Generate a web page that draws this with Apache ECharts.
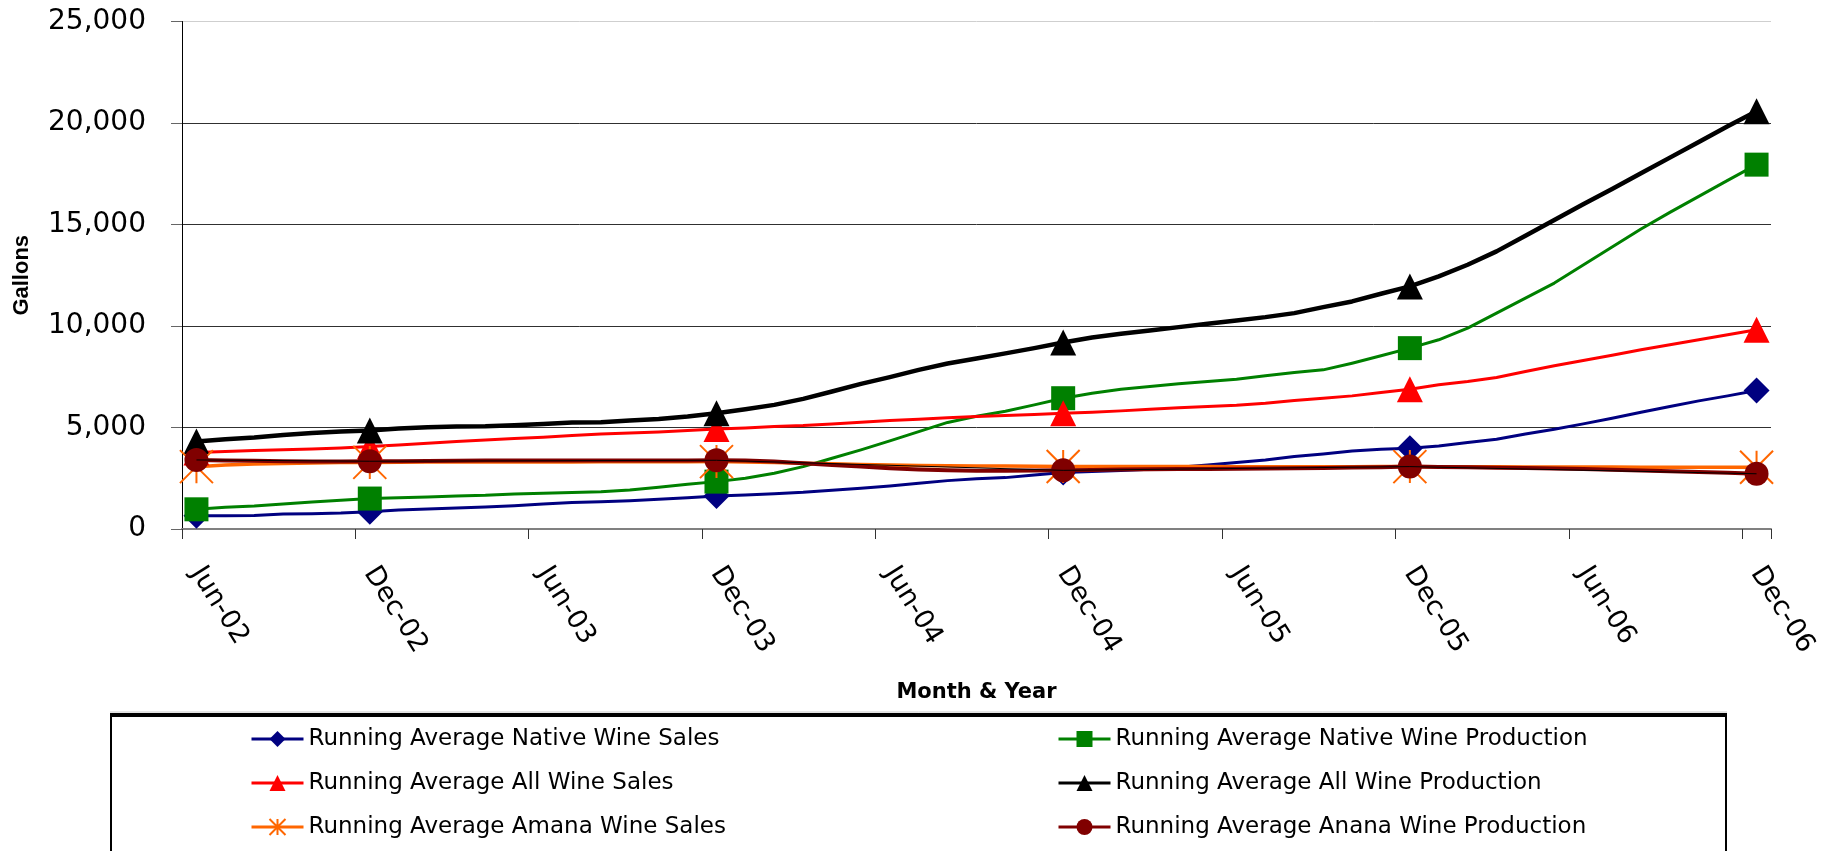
<!DOCTYPE html>
<html>
<head>
<meta charset="utf-8">
<script src="https://cdn.jsdelivr.net/npm/echarts@6/dist/echarts.min.js"></script>
<style>
html,body{margin:0;padding:0;background:#fff;}
#chart{width:1840px;height:851px;}
</style>
</head>
<body>
<div id="chart"></div>
<script>
const categories = [
 'Jun-02','Jul-02','Aug-02','Sep-02','Oct-02','Nov-02','Dec-02',
 'Jan-03','Feb-03','Mar-03','Apr-03','May-03','Jun-03','Jul-03','Aug-03','Sep-03','Oct-03','Nov-03','Dec-03',
 'Jan-04','Feb-04','Mar-04','Apr-04','May-04','Jun-04','Jul-04','Aug-04','Sep-04','Oct-04','Nov-04','Dec-04',
 'Jan-05','Feb-05','Mar-05','Apr-05','May-05','Jun-05','Jul-05','Aug-05','Sep-05','Oct-05','Nov-05','Dec-05',
 'Jan-06','Feb-06','Mar-06','Apr-06','May-06','Jun-06','Jul-06','Aug-06','Sep-06','Oct-06','Nov-06','Dec-06'
];
const nativeWineSales = [657,657,660,740,756,789,855,937,986,1035,1085,1150,1233,1300,1348,1397,1463,1545,1627,1677,1742,1808,1907,2005,2120,2252,2383,2470,2531,2663,2778,2827,2876,2942,3041,3156,3271,3402,3567,3698,3846,3930,3978,4093,4257,4422,4684,4915,5178,5457,5753,6032,6312,6558,6821];
const nativeWineProduction = [970,1068,1134,1233,1331,1414,1500,1545,1578,1627,1660,1726,1760,1800,1840,1923,2055,2203,2334,2498,2745,3074,3485,3895,4339,4800,5250,5550,5800,6114,6443,6690,6887,7018,7150,7265,7380,7544,7709,7840,8169,8531,8909,9320,9895,10635,11374,12114,13001,13889,14777,15598,16387,17176,17949];
const allWineSales = [3764,3813,3862,3900,3945,3994,4060,4142,4224,4306,4389,4454,4520,4600,4684,4734,4783,4849,4931,4981,5046,5095,5178,5260,5342,5408,5480,5540,5590,5640,5704,5753,5819,5901,5967,6032,6098,6197,6328,6443,6558,6723,6887,7101,7265,7462,7758,8038,8300,8563,8826,9073,9320,9566,9813];
const allWineProduction = [4306,4421,4504,4635,4734,4800,4849,4947,5013,5046,5062,5112,5178,5243,5260,5342,5424,5539,5704,5901,6114,6410,6772,7150,7479,7840,8150,8400,8650,8909,9188,9435,9615,9780,9944,10109,10273,10437,10635,10930,11210,11588,11949,12443,13018,13675,14448,15220,15993,16749,17521,18294,19066,19839,20579];
const amanaWineSales = [3072,3150,3200,3230,3250,3270,3280,3290,3295,3300,3300,3300,3300,3300,3310,3310,3310,3310,3320,3300,3280,3240,3210,3180,3156,3130,3115,3107,3100,3090,3080,3078,3076,3075,3074,3073,3072,3072,3072,3072,3072,3073,3074,3070,3066,3062,3058,3055,3052,3050,3048,3046,3044,3042,3041];
const ananaWineProduction = [3402,3380,3360,3340,3330,3330,3338,3340,3350,3360,3370,3380,3380,3380,3380,3380,3380,3380,3386,3370,3320,3238,3156,3074,2991,2930,2890,2870,2870,2880,2890,2910,2925,2940,2950,2960,2970,2980,2991,3010,3030,3045,3074,3060,3040,3020,3000,2980,2960,2920,2880,2850,2810,2770,2720];
// thin black line joining the year-end points (no legend entry)
const thinLinePoints = {0:3402, 6:3338, 18:3386, 30:2890, 42:3074, 54:2720};
const markerIndex = [0, 6, 18, 30, 42, 54];
const yTicks = {min: 0, max: 25000, interval: 5000};
const seriesNames = [
 'Running Average Native Wine Sales',
 'Running Average Native Wine Production',
 'Running Average All Wine Sales',
 'Running Average All Wine Production',
 'Running Average Amana Wine Sales',
 'Running Average Anana Wine Production'
];

const starPath = 'path://M0,0 L32,32 M32,0 L0,32 M16,0 L16,32';
function mk(name, data, color, width, symbol, size, extraItem) {
  return {
    name: name, type: 'line', data: data,
    symbol: symbol,
    symbolSize: function (v, p) { return markerIndex.indexOf(p.dataIndex) >= 0 ? size : 0; },
    showAllSymbol: true,
    lineStyle: {color: color, width: width, join: 'round'},
    itemStyle: Object.assign({color: color}, extraItem || {}),
    emphasis: {disabled: true},
    z: 2
  };
}
const thinData = categories.map(function (c, i) { return thinLinePoints.hasOwnProperty(i) ? thinLinePoints[i] : null; });

const font = 'DejaVu Sans';
const legendPos = [[250, 739], [1057, 739], [250, 783], [1057, 783], [250, 827], [1057, 827]];
const legends = seriesNames.map(function (n, i) {
  return {data: [n], orient: 'horizontal', left: legendPos[i][0], top: legendPos[i][1] - 12,
    itemWidth: 52, itemHeight: 20, itemGap: 0, selectedMode: false, padding: 0,
    lineStyle: {width: 3},
    textStyle: {fontFamily: font, fontSize: 23, lineHeight: 24, color: '#000'}};
});

const chart = echarts.init(document.getElementById('chart'), null, {renderer: 'canvas'});
chart.setOption({
  animation: false,
  backgroundColor: '#ffffff',
  grid: {left: 182, right: 69, top: 21.5, bottom: 322, containLabel: false, outerBoundsMode: 'none'},
  xAxis: {
    type: 'category', data: categories, boundaryGap: true,
    name: 'Month & Year', nameLocation: 'middle', nameGap: 153,
    nameTextStyle: {fontFamily: font, fontWeight: 'bold', fontSize: 21, color: '#000'},
    axisLine: {show: true, lineStyle: {color: '#808080', width: 2}},
    axisTick: {show: true, interval: 5, length: 10, lineStyle: {color: '#333', width: 1}},
    axisLabel: {interval: 5, rotate: -58, margin: 40, fontFamily: font, fontSize: 27, color: '#000'},
    splitLine: {show: false}
  },
  yAxis: {
    type: 'value', min: yTicks.min, max: yTicks.max, interval: yTicks.interval,
    name: 'Gallons', nameLocation: 'middle', nameGap: 149, nameRotate: 90,
    nameTextStyle: {fontFamily: 'Liberation Sans', fontWeight: 'bold', fontSize: 22, color: '#000'},
    axisLine: {show: true, lineStyle: {color: '#000', width: 1}},
    axisTick: {show: true, length: 11, lineStyle: {color: '#666', width: 1}},
    axisLabel: {margin: 36, fontFamily: font, fontSize: 28, color: '#000',
      formatter: function (v) { return v.toLocaleString('en-US'); }},
    splitLine: {show: true, lineStyle: {color: ['#303030','#303030','#303030','#303030','#303030','#cfcfcf'], width: 1}}
  },
  legend: legends,
  graphic: [
    {type: 'rect', shape: {x: 111, y: 715, width: 1615, height: 160}, style: {fill: 'none', stroke: '#000', lineWidth: 2}, z: 0},
    {type: 'line', shape: {x1: 110, y1: 715, x2: 1727, y2: 715}, style: {stroke: '#000', lineWidth: 4}, z: 0},
    {type: 'line', shape: {x1: 110, y1: 712, x2: 1727, y2: 712}, style: {stroke: '#c8c8c8', lineWidth: 1}, z: 0}
  ],
  series: [
    mk(seriesNames[0], nativeWineSales, '#000080', 3, 'diamond', 26),
    mk(seriesNames[1], nativeWineProduction, '#008000', 3, 'rect', 24),
    mk(seriesNames[2], allWineSales, '#FF0000', 3, 'triangle', 26),
    mk(seriesNames[3], allWineProduction, '#000000', 4.5, 'triangle', 26),
    mk(seriesNames[4], amanaWineSales, '#FF6600', 3.5, starPath, 33, {color: 'transparent', borderColor: '#FF6600', borderWidth: 2}),
    mk(seriesNames[5], ananaWineProduction, '#800000', 4, 'circle', 24),
    {name: 'thin', type: 'line', data: thinData, connectNulls: true, symbol: 'none',
     lineStyle: {color: '#000', width: 1}, emphasis: {disabled: true}, z: 3}
  ]
});
</script>
</body>
</html>
